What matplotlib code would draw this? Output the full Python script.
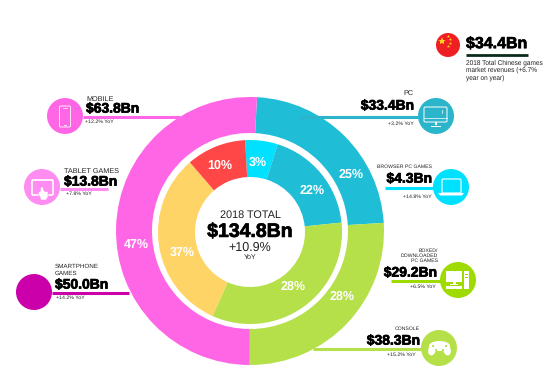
"""2018 games market revenues: double ring with callouts."""
import matplotlib
matplotlib.use("Agg")
import matplotlib.pyplot as plt
import matplotlib.patheffects as pe
from matplotlib.patches import Circle, Rectangle, FancyBboxPatch, Ellipse, Polygon

plt.rcParams["font.family"] = ["Liberation Sans", "DejaVu Sans"]
plt.rcParams["text.hinting"] = "no_hinting"

# ring shares as drawn in the picture (printed labels differ a little)
outer_shares = [23.2, 26.0, 50.8]
outer_labels = ["25%", "28%", "47%"]
inner_shares = [5.7, 18.5, 33.3, 32.0, 10.5]
inner_labels = ["3%", "22%", "28%", "37%", "10%"]

total_value = "$134.8Bn"
total_growth = "+10.9%"
china_value = "$34.4Bn"

TEAL = "#1FBDD6"
GREEN = "#B5E04A"
PINK = "#FF66E6"
RED = "#FF4747"
CYAN = "#00E1FF"
YELLOW = "#FFD466"
LIME = "#9FDB00"
BLACK = "#000000"


def value_text(ax, x, y, s, ha="left", size=10.0):
    ax.text(x, y, s, ha=ha, va="center", fontsize=size, weight="bold", color=BLACK,
            path_effects=[pe.withStroke(linewidth=0.5, foreground=BLACK)], zorder=6)


def small_text(ax, x, y, s, ha="left", size=5.2, color="#222222"):
    ax.text(x, y, s, ha=ha, va="center", fontsize=size, color=color, zorder=6)


def callout(ax, cx, cy, color, line_from, line_to, line_y, lw=2.2):
    ax.plot([line_from, line_to], [line_y, line_y], color=color, lw=lw,
            solid_capstyle="butt", zorder=4)
    ax.add_patch(Circle((cx, cy), 18, facecolor=color, edgecolor="none", zorder=5))


def outline_box(ax, x, y, w, h, lw=0.9, fill="none", z=7):
    ax.add_patch(FancyBboxPatch((x, y), w, h, boxstyle="round,pad=0,rounding_size=1.2",
                                facecolor=fill, edgecolor="white", lw=lw, zorder=z))


def filled_rect(ax, x, y, w, h, color="white", z=7):
    ax.add_patch(Rectangle((x, y), w, h, facecolor=color, edgecolor="none", zorder=z))


fig = plt.figure(figsize=(5.48, 3.92), dpi=100, facecolor="white")
ax = fig.add_axes([0, 0, 1, 1])

# y axis gets inverted below, so counterclock here reads clockwise on screen
ax.pie(outer_shares, colors=[TEAL, GREEN, PINK], startangle=-87, counterclock=True,
       center=(250, 231), radius=134, frame=True,
       wedgeprops={"width": 36, "linewidth": 0})
ax.pie(inner_shares, colors=[CYAN, TEAL, GREEN, YELLOW, RED], startangle=-93, counterclock=True,
       center=(250, 232), radius=92, frame=True,
       wedgeprops={"width": 37, "linewidth": 0})
ax.set_xlim(0, 548)
ax.set_ylim(392, 0)
ax.set_aspect("equal")
ax.axis("off")

# percentage labels
pct_kw = dict(ha="center", va="center", color="white", fontsize=9, weight="bold", zorder=6)
for (x, y), s in zip([(351, 175), (342, 297), (136, 245)], outer_labels):
    ax.text(x, y, s, **pct_kw)
for (x, y), s in zip([(258, 162), (312, 191), (293, 287), (182, 252), (220, 166)], inner_labels):
    ax.text(x, y, s, **pct_kw)

# centre
ax.text(250, 215, "2018 TOTAL", ha="center", va="center", fontsize=7.8, color="#222222")
value_text(ax, 250, 232, total_value, ha="center", size=14)
ax.text(250, 248, total_growth, ha="center", va="center", fontsize=9, color="#222222")
ax.text(250, 257, "YoY", ha="center", va="center", fontsize=5, color="#222222")

# left callouts
callout(ax, 65, 116, PINK, 83, 180, 117)
small_text(ax, 86, 99, "MOBILE")
value_text(ax, 86, 109, "$63.8Bn")
small_text(ax, 85, 122, "+12.2% YoY", size=3.8)

callout(ax, 42, 187, "#FF8CF0", 60, 108, 189)
small_text(ax, 64, 171, "TABLET GAMES")
value_text(ax, 64, 182, "$13.8Bn")
small_text(ax, 66, 194, "+7.8% YoY", size=3.8)

callout(ax, 34, 292, "#CC00AA", 52, 129, 293)
small_text(ax, 55, 266, "SMARTPHONE", size=4.5)
small_text(ax, 55, 273, "GAMES", size=4.5)
value_text(ax, 55, 285, "$50.0Bn")
small_text(ax, 56, 298, "+14.2% YoY", size=3.8)

# right callouts
callout(ax, 436, 116, "#2BB5CB", 300, 420, 117)
small_text(ax, 413, 93, "PC", ha="right")
value_text(ax, 414, 106, "$33.4Bn", ha="right")
small_text(ax, 414, 124, "+3.2% YoY", ha="right", size=3.8)

callout(ax, 451, 187, CYAN, 385, 435, 188)
small_text(ax, 432, 167, "BROWSER PC GAMES", ha="right", size=3.7)
value_text(ax, 432, 179, "$4.3Bn", ha="right")
small_text(ax, 432, 197, "+14.8% YoY", ha="right", size=3.8)

callout(ax, 458, 280, LIME, 391, 442, 281)
small_text(ax, 438, 251, "BOXED/", ha="right", size=3.7)
small_text(ax, 438, 256, "DOWNLOADED", ha="right", size=3.7)
small_text(ax, 438, 261, "PC GAMES", ha="right", size=3.7)
value_text(ax, 437, 273, "$29.2Bn", ha="right")
small_text(ax, 436, 287, "+6.5% YoY", ha="right", size=3.8)

callout(ax, 439, 348, GREEN, 313, 425, 349)
small_text(ax, 420, 329, "CONSOLE", ha="right", size=3.7)
value_text(ax, 420, 341, "$38.3Bn", ha="right")
small_text(ax, 416, 355, "+15.2% YoY", ha="right", size=3.8)

# China block
ax.add_patch(Circle((448, 45), 12, facecolor="#EE2024", edgecolor="none", zorder=5))
ax.plot([442], [41], marker="*", ms=6, color="#FFD21E", mew=0, zorder=6)
for sx, sy in [(448, 36), (450, 39), (450, 43), (448, 46)]:
    ax.plot([sx], [sy], marker="*", ms=2.5, color="#FFD21E", mew=0, zorder=6)
value_text(ax, 466, 44, china_value, size=11.5)
ax.plot([466, 528], [55, 55], color="#0A2A1A", lw=2, solid_capstyle="butt", zorder=4)
small_text(ax, 466, 63, "2018 Total Chinese games", size=4.7)
small_text(ax, 466, 70, "market revenues (+6.7%", size=4.7)
small_text(ax, 466, 78, "year on year)", size=4.7)

# icons: phone
outline_box(ax, 59.5, 106, 11, 21, lw=0.6)
ax.plot([63, 67], [108, 108], color="white", lw=0.5, zorder=7)
ax.plot([64, 66], [125, 125], color="white", lw=0.6, zorder=7)

# tablet with finger
outline_box(ax, 32, 180, 21, 15, lw=1.2)
ax.add_patch(Polygon([(39, 195), (38, 192), (40, 192), (41, 187), (43, 187), (44, 191),
                      (48, 192), (48, 197), (46, 200), (41, 200)],
                     facecolor="white", edgecolor="#FF8CF0", lw=0.4, zorder=8))

# desktop monitor
outline_box(ax, 424, 107, 23, 15, lw=0.7)
ax.plot([424, 447], [118, 118], color="white", lw=0.5, zorder=7)
ax.plot([442, 442], [110, 113], color="white", lw=0.5, zorder=7)
filled_rect(ax, 435, 122, 1.5, 3)
ax.plot([431, 440], [126, 126], color="white", lw=0.7, zorder=7)

# laptop
outline_box(ax, 442, 179, 19, 14, lw=0.8)
ax.add_patch(Polygon([(438, 193), (464, 193), (462, 195.5), (440, 195.5)], facecolor="white",
                     edgecolor="none", zorder=7))

# boxed pc
filled_rect(ax, 446, 271, 16, 11)
filled_rect(ax, 453, 282, 2.5, 2)
filled_rect(ax, 450, 283.5, 8, 1)
filled_rect(ax, 446, 285.5, 16, 3.5)
filled_rect(ax, 463.5, 271, 5.5, 18)
filled_rect(ax, 464.5, 274, 3.5, 1, color=LIME, z=8)
filled_rect(ax, 464.5, 277, 3.5, 1, color=LIME, z=8)

# game pad
ax.add_patch(Ellipse((439.5, 346), 21, 10, facecolor="white", edgecolor="none", zorder=7))
ax.add_patch(Ellipse((432, 350), 7.5, 11, angle=15, facecolor="white", edgecolor="none", zorder=7))
ax.add_patch(Ellipse((447, 350), 7.5, 11, angle=-15, facecolor="white", edgecolor="none", zorder=7))
for bx, by in [(433, 346), (446, 346), (436, 350), (443, 350)]:
    ax.add_patch(Circle((bx, by), 1.1, facecolor=GREEN, edgecolor="none", zorder=8))

fig.savefig("out.png", dpi=100, facecolor="white")
